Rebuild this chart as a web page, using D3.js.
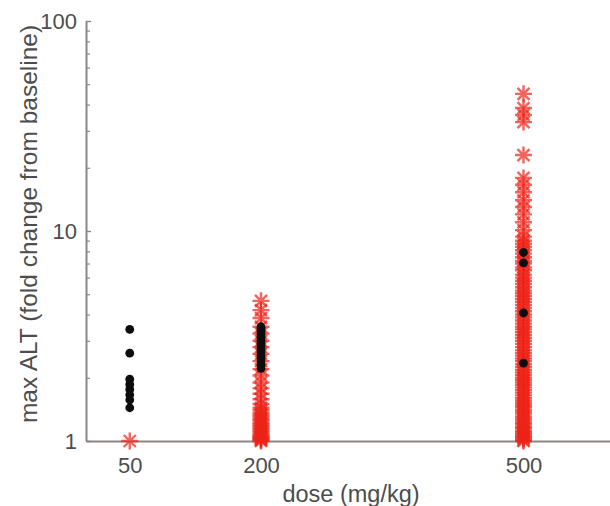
<!DOCTYPE html>
<html>
<head>
<meta charset="utf-8">
<script src="https://cdn.jsdelivr.net/npm/d3@7/dist/d3.min.js"></script>
<style>
  html, body { margin: 0; padding: 0; background: #fff; }
  svg { display: block; }
  text { font-family: "Liberation Sans", Arial, Helvetica, sans-serif; }
</style>
</head>
<body>
<svg id="chart" width="610" height="506"></svg>
<script>
// ---- data ----
const doses = [50, 200, 500];
const xTickLabels = ["50", "200", "500"];
const yTickValues = [1, 10, 100];
const yTickLabels = ["1", "10", "100"];

const dose50Black = [3.4, 2.62, 1.97, 1.86, 1.76, 1.66, 1.57, 1.44];
const dose50Red = [1.0];
const dose200Black = [3.5, 3.42, 3.33, 3.22, 3.12, 3.02, 2.93, 2.84, 2.74, 2.65, 2.56, 2.47, 2.38, 2.3, 2.22];
const dose200Red = [4.65, 4.2, 3.85, 3.5, 3.25, 3.0, 2.8, 2.6, 2.4, 2.2, 2.05, 1.9, 1.78, 1.68, 1.58, 1.5, 1.44, 1.4, 1.36, 1.33, 1.3, 1.27, 1.25, 1.22, 1.2, 1.18, 1.16, 1.14, 1.12, 1.1, 1.08, 1.06, 1.05, 1.04, 1.03, 1.02, 1.01, 1.0];
const dose500Black = [7.9, 7.05, 4.07, 2.35];
const dose500Red = [45, 38.5, 35.7, 33, 23, 17.9, 16.6, 15.3, 14.0, 13.0, 12.0, 11.0, 10.1, 9.4, 9.0, 8.7, 8.4, 8.1, 7.8, 7.5, 7.2, 7.0, 6.7, 6.5, 6.2, 6.0, 5.8, 5.6, 5.4, 5.2, 5.05, 4.9, 4.75, 4.6, 4.45, 4.3, 4.15, 4.0, 3.88, 3.75, 3.62, 3.5, 3.4, 3.3, 3.2, 3.1, 3.0, 2.9, 2.8, 2.7, 2.62, 2.55, 2.47, 2.4, 2.32, 2.25, 2.18, 2.12, 2.06, 2.0, 1.95, 1.9, 1.85, 1.8, 1.75, 1.7, 1.65, 1.6, 1.56, 1.52, 1.48, 1.45, 1.41, 1.38, 1.35, 1.31, 1.28, 1.25, 1.22, 1.2, 1.17, 1.15, 1.12, 1.1, 1.08, 1.06, 1.04, 1.03, 1.01, 1.0];

const redSeries = [
  {dose: 50, values: dose50Red},
  {dose: 200, values: dose200Red},
  {dose: 500, values: dose500Red}
];
const blackSeries = [
  {dose: 50, values: dose50Black},
  {dose: 200, values: dose200Black},
  {dose: 500, values: dose500Black}
];

// ---- layout ----
const svg = d3.select("#chart");
const x = d3.scaleLinear().domain([0, 600]).range([86, 611]);
const y = d3.scaleLog().domain([1, 100]).range([441, 21]);
const axisColor = "#8c8683";
const textColor = "#4d4d4d";

const defs = svg.append("defs");
defs.append("filter").attr("id", "soft")
  .append("feGaussianBlur").attr("stdDeviation", 0.6);

// ---- markers ----
const r = 8.5;
const d45 = r * Math.SQRT1_2;
const starPath = `M${-r},0H${r}M0,${-r}V${r}M${-d45},${-d45}L${d45},${d45}M${-d45},${d45}L${d45},${-d45}`;

const redPts = redSeries.flatMap(s => s.values.map(v => ({dose: s.dose, v})));
const blackPts = blackSeries.flatMap(s => s.values.map(v => ({dose: s.dose, v})));

const marks = svg.append("g").attr("filter", "url(#soft)");
marks.selectAll("path.star").data(redPts).join("path")
  .attr("class", "star")
  .attr("transform", d => `translate(${x(d.dose)},${y(d.v)})`)
  .attr("d", starPath)
  .attr("fill", "none")
  .attr("stroke", "#ec2419")
  .attr("stroke-width", 2.4)
  .attr("stroke-opacity", 0.7);

marks.selectAll("circle.dot").data(blackPts).join("circle")
  .attr("class", "dot")
  .attr("cx", d => x(d.dose))
  .attr("cy", d => y(d.v))
  .attr("r", 4.4)
  .attr("fill", "#0d0d0d");

// ---- axes ----
const yMinor = [2,3,4,5,6,7,8,9,20,30,40,50,60,70,80,90];
const gyMinor = svg.append("g").attr("transform", `translate(${x(0)},0)`)
  .call(d3.axisLeft(y).tickValues(yMinor).tickSize(-4).tickFormat(""));
gyMinor.select(".domain").remove();
gyMinor.selectAll("line").attr("stroke", axisColor).attr("stroke-width", 1.2);

const gy = svg.append("g").attr("transform", `translate(${x(0)},0)`)
  .call(d3.axisLeft(y).tickValues(yTickValues).tickSizeInner(-5).tickSizeOuter(0).tickPadding(9)
    .tickFormat((d, i) => yTickLabels[i]));
gy.select(".domain").attr("stroke", axisColor).attr("stroke-width", 2);
gy.selectAll("line").attr("stroke", axisColor).attr("stroke-width", 1.4);
gy.selectAll("text").attr("font-size", 22).attr("fill", textColor);

const gx = svg.append("g").attr("transform", `translate(0,${y(1)})`)
  .call(d3.axisBottom(x).tickValues(doses).tickSizeInner(0).tickSizeOuter(0).tickPadding(16)
    .tickFormat((d, i) => xTickLabels[i]));
gx.select(".domain").attr("stroke", axisColor).attr("stroke-width", 2);
gx.selectAll("text").attr("font-size", 22).attr("fill", textColor);
gx.lower(); gy.lower(); gyMinor.lower();

// ---- axis titles ----
svg.append("text")
  .attr("x", 351).attr("y", 502)
  .attr("text-anchor", "middle")
  .attr("font-size", 23.5)
  .attr("fill", textColor)
  .text("dose (mg/kg)");

svg.append("text")
  .attr("transform", "translate(37,224) rotate(-90)")
  .attr("text-anchor", "middle")
  .attr("font-size", 24.5)
  .attr("fill", textColor)
  .text("max ALT (fold change from baseline)");
</script>
</body>
</html>
